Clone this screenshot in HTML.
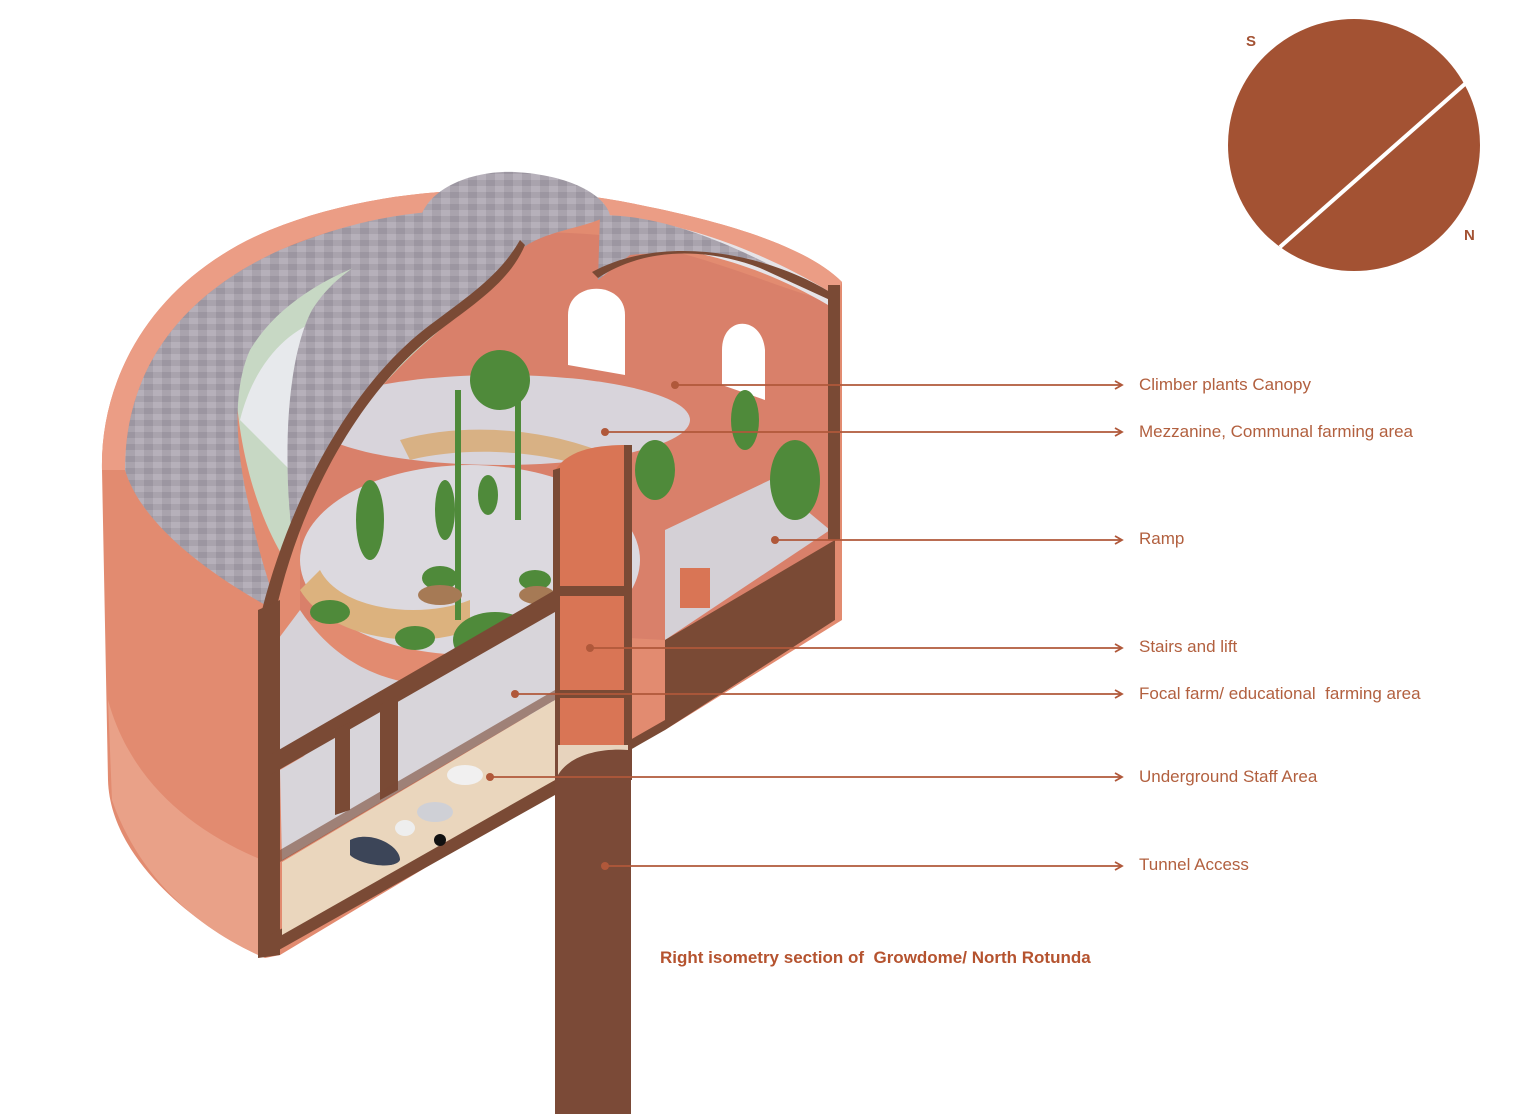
<!DOCTYPE html>
<html><head><meta charset="utf-8"><style>
html,body{margin:0;padding:0;background:#fff;}
body{width:1536px;height:1114px;overflow:hidden;position:relative;font-family:"Liberation Sans",sans-serif;}
.lbl{position:absolute;left:1139px;font-size:17px;color:#b2603f;white-space:nowrap;line-height:1;}
</style></head><body>
<svg width="1536" height="1114" viewBox="0 0 1536 1114" style="position:absolute;left:0;top:0">
<defs>
<marker id="ar" markerWidth="10" markerHeight="10" refX="8" refY="5" orient="auto" markerUnits="userSpaceOnUse">
<path d="M1,1 L8,5 L1,9" fill="none" stroke="#b0583a" stroke-width="1.8"/></marker>
<pattern id="tile" width="18" height="12" patternUnits="userSpaceOnUse">
<rect width="18" height="12" fill="#a9a3ad"/><rect x="0" y="0" width="9" height="6" fill="#9c96a1"/><rect x="9" y="6" width="9" height="6" fill="#b6b0ba"/></pattern>
</defs>
<!-- compass -->
<circle cx="1354" cy="145" r="126" fill="#a35233"/>
<line x1="1280" y1="247" x2="1466" y2="83" stroke="#fff" stroke-width="4"/>
<text x="1246" y="46" font-size="15" font-weight="bold" fill="#a35233" font-family="Liberation Sans">S</text>
<text x="1464" y="240" font-size="15" font-weight="bold" fill="#a35233" font-family="Liberation Sans">N</text>

<!-- drum outer body -->
<path d="M102,470 C100,380 150,280 270,230 C380,185 520,180 640,205 C740,225 810,250 842,282 L842,620 L665,730 L630,745 L280,955 L265,958 C200,930 110,860 108,780 Z" fill="#e28b70"/>
<path d="M108,700 L112,800 C140,880 200,930 265,958 L262,860 C190,830 130,780 108,700 Z" fill="#e9a188"/>
<!-- rim top -->
<path d="M102,470 C100,380 150,280 270,230 C380,185 520,180 640,205 C740,225 810,250 842,282 L835,300 C800,270 740,245 640,225 C520,200 380,205 280,250 C170,300 125,380 125,470 Z" fill="#eb9d85"/>
<!-- interior background wall -->
<path d="M300,300 C380,240 480,225 600,235 C720,255 800,300 835,300 L835,540 L665,640 L300,620 Z" fill="#d9806a"/>
<!-- glass ring top right -->
<path d="M600,215 C680,220 760,250 830,292 L828,305 C760,265 690,245 600,240 Z" fill="#e6e4e8"/>
<!-- windows -->
<path d="M568,365 L568,315 C568,280 625,280 625,315 L625,375 Z" fill="#fff"/>
<path d="M722,385 L722,350 C722,315 762,315 765,350 L765,400 Z" fill="#fff"/>
<!-- glass/green left interior -->
<path d="M235,360 C260,300 330,260 420,240 L440,330 C380,380 320,450 285,560 C260,520 235,450 235,360 Z" fill="#c7d8c4"/>
<path d="M240,420 C255,360 290,330 320,320 L330,460 L300,480 Z" fill="#e7e9ec"/>
<!-- interior floors -->
<ellipse cx="500" cy="420" rx="190" ry="45" fill="#d8d4db"/>
<ellipse cx="470" cy="560" rx="170" ry="95" fill="#dcd9df"/>
<path d="M300,610 C360,700 460,700 560,660 L560,710 L280,760 L270,650 Z" fill="#d6d2d8"/>
<path d="M665,530 L770,480 L830,530 L665,640 Z" fill="#d4d0d6"/>
<!-- beige ring -->
<path d="M300,590 C330,640 420,650 470,630 L470,600 C420,620 340,610 320,570 Z" fill="#dcb27e"/>
<path d="M400,440 C470,420 560,430 620,460 L620,480 C560,450 470,445 410,460 Z" fill="#d8b184"/>
<!-- plants -->
<g fill="#4f8a3a">
<ellipse cx="495" cy="640" rx="42" ry="28"/><ellipse cx="330" cy="612" rx="20" ry="12"/><ellipse cx="415" cy="638" rx="20" ry="12"/>
<ellipse cx="440" cy="578" rx="18" ry="12"/><ellipse cx="535" cy="580" rx="16" ry="10"/>
<rect x="455" y="390" width="6" height="230"/><rect x="515" y="380" width="6" height="140"/>
<ellipse cx="500" cy="380" rx="30" ry="30"/><ellipse cx="655" cy="470" rx="20" ry="30"/><ellipse cx="745" cy="420" rx="14" ry="30"/><ellipse cx="795" cy="480" rx="25" ry="40"/>
<ellipse cx="370" cy="520" rx="14" ry="40"/><ellipse cx="445" cy="510" rx="10" ry="30"/><ellipse cx="488" cy="495" rx="10" ry="20"/>
</g>
<g fill="#a67a55"><ellipse cx="497" cy="668" rx="42" ry="16"/><ellipse cx="440" cy="595" rx="22" ry="10"/><ellipse cx="537" cy="595" rx="18" ry="9"/></g>
<!-- gray dome band (outer) -->
<path d="M125,470 C125,380 170,300 280,250 C340,225 390,215 430,212 L425,245 C340,265 280,300 250,350 C232,390 235,450 250,510 C260,560 272,590 278,612 C200,570 140,520 125,470 Z" fill="url(#tile)"/>
<!-- gray dome band (inner swirl) -->
<path d="M312,310 C340,265 390,245 425,240 C460,265 490,285 520,250 C500,285 470,300 440,325 C380,370 320,440 292,535 C282,450 288,355 312,310 Z" fill="url(#tile)"/>
<!-- cupola -->
<path d="M418,230 C420,190 470,170 515,172 C570,175 605,195 610,215 C580,230 545,230 520,250 C500,285 470,290 445,270 C428,260 418,245 418,230 Z" fill="url(#tile)"/>
<path d="M600,215 C660,215 720,240 770,265 C740,255 680,250 630,255 L598,280 Z" fill="url(#tile)"/>
<!-- dome section cut lines -->
<path d="M275,615 C300,500 360,390 440,330 C480,300 510,280 525,245 L520,240 C500,275 470,295 430,325 C350,385 290,500 262,610 Z" fill="#7a4a35"/>
<path d="M598,278 C640,250 700,245 760,268 L830,300 L830,292 C760,250 660,235 592,272 Z" fill="#7a4a35"/>
<rect x="828" y="285" width="12" height="255" fill="#7a4a35"/>
<!-- stair core -->
<path d="M555,470 C570,448 600,445 628,445 L628,775 L555,775 Z" fill="#d97555"/>
<path d="M553,470 L560,468 L560,780 L553,780 Z M624,445 L632,445 L632,780 L624,780 Z" fill="#7a4a35"/>
<rect x="555" y="586" width="75" height="10" fill="#7a4a35"/>
<rect x="555" y="690" width="75" height="8" fill="#7a4a35"/>
<rect x="680" y="568" width="30" height="40" fill="#d97555"/>
<rect x="665" y="640" width="45" height="50" fill="#d97555"/>
<!-- ground floor interior (between slabs) -->
<path d="M280,770 L555,610 L555,700 L282,860 Z" fill="#d8d5da"/>
<!-- section slabs -->
<path d="M258,610 L280,600 L280,955 L258,958 Z" fill="#7a4a35"/>
<path d="M270,755 L555,590 L555,612 L270,775 Z" fill="#7a4a35"/>
<path d="M335,730 L350,722 L350,810 L335,815 Z M380,705 L398,695 L398,790 L380,800 Z" fill="#7a4a35"/>
<path d="M270,935 L555,780 L555,795 L270,955 Z" fill="#7a4a35"/>
<path d="M280,850 L555,690 L555,700 L280,862 Z" fill="#7a4a35" opacity="0.6"/>
<!-- basement interior -->
<path d="M282,862 L555,700 L555,780 L282,935 Z" fill="#ead6bd"/>
<path d="M350,840 C370,830 400,845 400,860 C395,870 360,865 350,855 Z" fill="#3c4558"/>
<ellipse cx="435" cy="812" rx="18" ry="10" fill="#cfd0d6"/><ellipse cx="405" cy="828" rx="10" ry="8" fill="#eee"/><ellipse cx="440" cy="840" rx="6" ry="6" fill="#111"/>
<ellipse cx="465" cy="775" rx="18" ry="10" fill="#f1f0f0"/>
<!-- right block -->
<path d="M665,640 L835,540 L835,620 L665,730 Z" fill="#7a4a35"/>
<path d="M630,740 L665,720 L665,730 L630,750 Z" fill="#7a4a35"/>
<!-- shaft -->
<rect x="555" y="745" width="76" height="369" fill="#7b4a37"/>
<path d="M558,775 C570,755 600,748 628,750 L628,745 L558,745 Z" fill="#e7d3bd"/>
<!-- connectors -->
<g stroke="#b0583a" stroke-width="1.8" fill="none" marker-end="url(#ar)">
<line x1="675" y1="385" x2="1122" y2="385"/>
<line x1="605" y1="432" x2="1122" y2="432"/>
<line x1="775" y1="540" x2="1122" y2="540"/>
<line x1="590" y1="648" x2="1122" y2="648"/>
<line x1="515" y1="694" x2="1122" y2="694"/>
<line x1="490" y1="777" x2="1122" y2="777"/>
<line x1="605" y1="866" x2="1122" y2="866"/>
</g>
<g fill="#b0583a">
<circle cx="675" cy="385" r="4"/><circle cx="605" cy="432" r="4"/><circle cx="775" cy="540" r="4"/><circle cx="590" cy="648" r="4"/><circle cx="515" cy="694" r="4"/><circle cx="490" cy="777" r="4"/><circle cx="605" cy="866" r="4"/>
</g>
</svg>
<div class="lbl" style="top:376px">Climber plants Canopy</div>
<div class="lbl" style="top:423px">Mezzanine, Communal farming area</div>
<div class="lbl" style="top:530px">Ramp</div>
<div class="lbl" style="top:638px">Stairs and lift</div>
<div class="lbl" style="top:685px">Focal farm/ educational&nbsp; farming area</div>
<div class="lbl" style="top:768px">Underground Staff Area</div>
<div class="lbl" style="top:856px">Tunnel Access</div>
<div style="position:absolute;left:660px;top:948px;font-size:17px;font-weight:bold;color:#b5532f;white-space:nowrap">Right isometry section of&nbsp; Growdome/ North Rotunda</div>
</body></html>
